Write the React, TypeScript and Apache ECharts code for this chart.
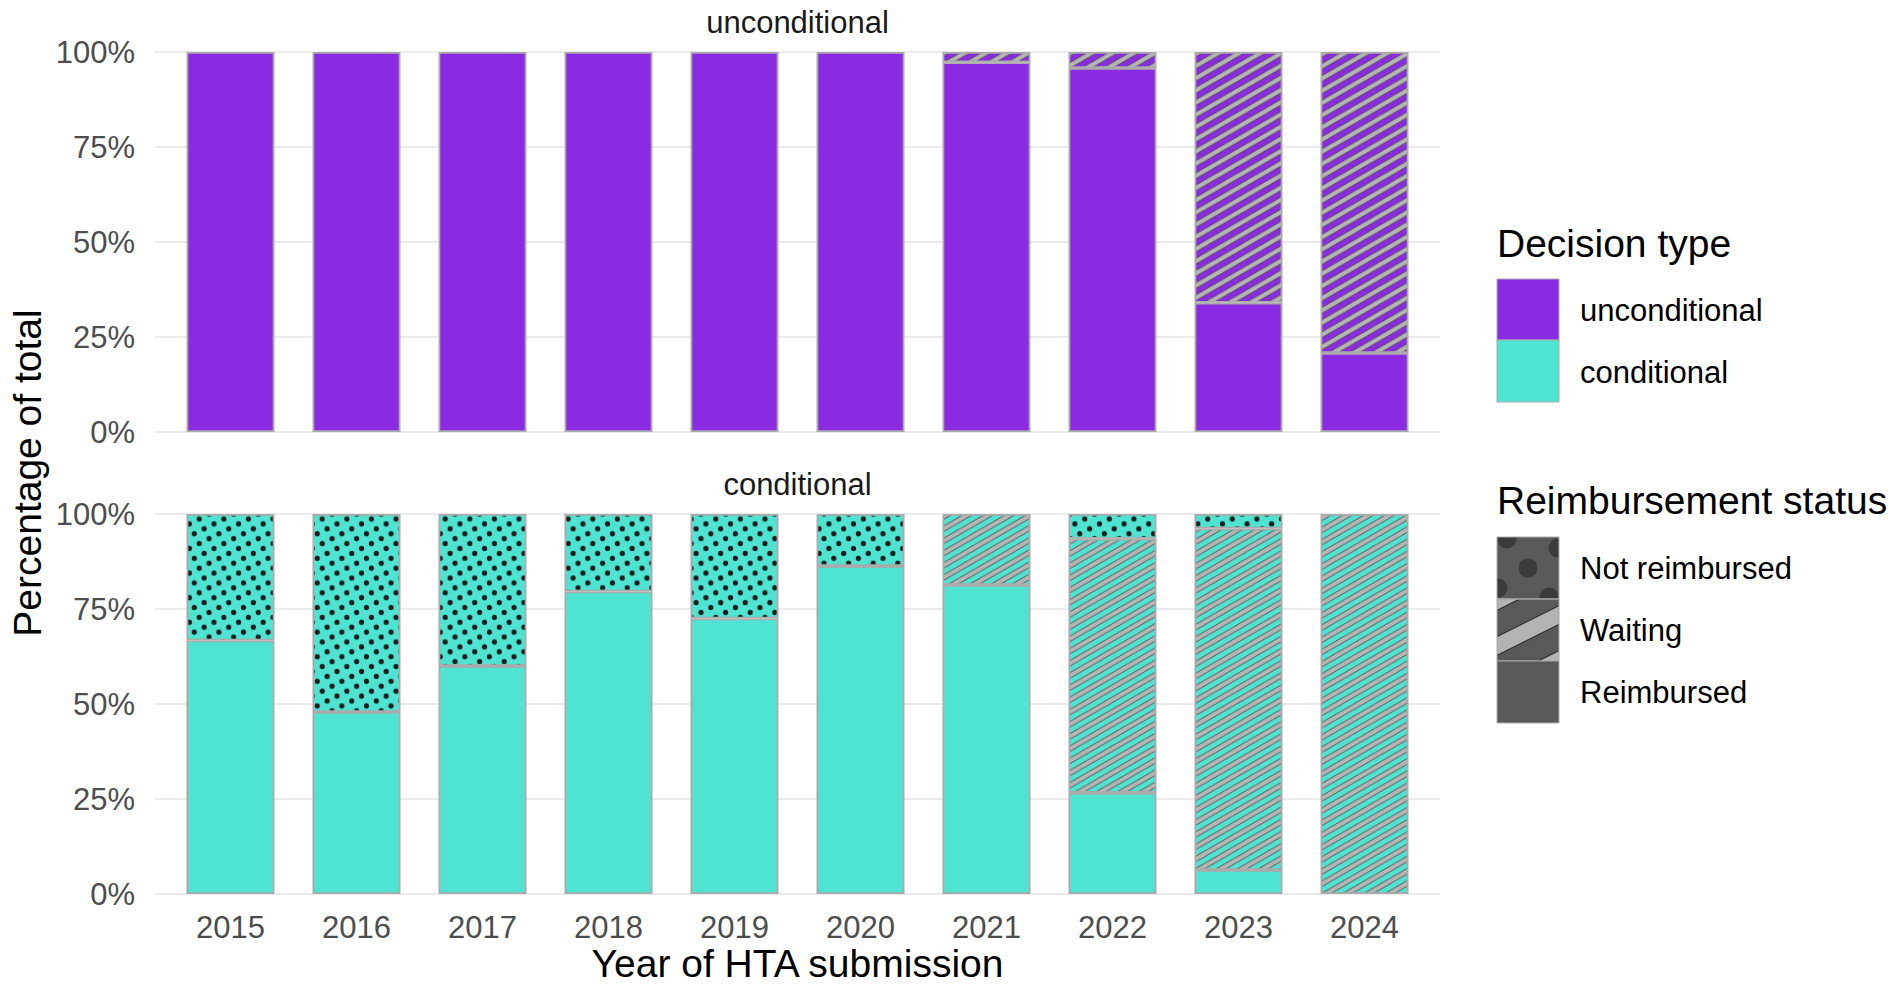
import React, { useEffect, useRef } from 'react';
import * as echarts from 'echarts';

// ---------- data ----------
const years = ['2015', '2016', '2017', '2018', '2019', '2020', '2021', '2022', '2023', '2024'];
const yTicks = [0, 25, 50, 75, 100];

// panel "unconditional" (percent of total)
const uncondReimbursed = [100, 100, 100, 100, 100, 100, 97.3, 95.8, 34.0, 20.8];
const uncondWaiting = [0, 0, 0, 0, 0, 0, 2.7, 4.2, 66.0, 79.2];
const uncondNotReimbursed = [0, 0, 0, 0, 0, 0, 0, 0, 0, 0];

// panel "conditional" (percent of total)
const condReimbursed = [66.7, 47.9, 60.0, 79.6, 72.5, 86.3, 81.3, 26.6, 6.3, 0];
const condWaiting = [0, 0, 0, 0, 0, 0, 18.7, 66.9, 89.9, 100];
const condNotReimbursed = [33.3, 52.1, 40.0, 20.4, 27.5, 13.7, 0, 6.5, 3.8, 0];

const decisionTypes = ['unconditional', 'conditional'];
const statuses = ['Not reimbursed', 'Waiting', 'Reimbursed'];

// ---------- style ----------
const FONT = '"Liberation Sans", Arial, Helvetica, sans-serif';
const PURPLE = '#8a2be2';
const CYAN = '#4fe3d2';
const BORDER = '#ababab';
const GRIDLINE = '#ebebeb';
const TICK = '#4d4d4d';

function svgUrl(svg: string) {
  return 'data:image/svg+xml;charset=utf-8,' + encodeURIComponent(svg);
}

function stripePattern(bg: string) {
  const py = 12.2;
  const px = py * Math.sqrt(3);
  let lines = '';
  for (let k = -2; k <= 2; k++) {
    const x1 = -px, y1 = py + px * (py / px) + k * py;
    const x2 = 2 * px, y2 = py - 2 * px * (py / px) + k * py;
    lines += `<line x1="${x1}" y1="${y1}" x2="${x2}" y2="${y2}" stroke="#505050" stroke-width="5.6"/>`;
    lines += `<line x1="${x1}" y1="${y1}" x2="${x2}" y2="${y2}" stroke="#b5b5b5" stroke-width="4.0"/>`;
  }
  const svg = `<svg xmlns="http://www.w3.org/2000/svg" width="${px}" height="${py}" viewBox="0 0 ${px} ${py}" preserveAspectRatio="none"><rect x="0" y="0" width="${px}" height="${py}" fill="${bg}"/>${lines}</svg>`;
  return { image: svgUrl(svg), repeat: 'repeat', imageWidth: px, imageHeight: py };
}

function dotPattern(bg: string) {
  const s = 11;
  const u = s / Math.sqrt(5);
  const T = 5 * u;
  const pts = [[0, 0], [1, 2], [2, 4], [3, 1], [4, 3]];
  let circles = '';
  for (const [i, j] of pts) {
    for (const dx of [-T, 0, T]) {
      for (const dy of [-T, 0, T]) {
        circles += `<circle cx="${i * u + u / 2 + dx}" cy="${j * u + u / 2 + dy}" r="2.6" fill="#1c1c1c"/>`;
      }
    }
  }
  const svg = `<svg xmlns="http://www.w3.org/2000/svg" width="${T}" height="${T}" viewBox="0 0 ${T} ${T}" preserveAspectRatio="none"><rect x="0" y="0" width="${T}" height="${T}" fill="${bg}"/>${circles}</svg>`;
  return { image: svgUrl(svg), repeat: 'repeat', imageWidth: T, imageHeight: T };
}

function keyNotReimbursed() {
  let c = '';
  for (let m = -3; m <= 3; m++) {
    for (let n = -3; n <= 3; n++) {
      const x = 31 + m * 30 + n * 21;
      const y = 31 - m * 20 + n * 29;
      c += `<circle cx="${x}" cy="${y}" r="9.5" fill="#3b3b3b"/>`;
    }
  }
  return svgUrl(`<svg xmlns="http://www.w3.org/2000/svg" width="62" height="62" viewBox="0 0 62 62"><rect width="62" height="62" fill="#595959"/>${c}</svg>`);
}

function keyWaiting() {
  let l = '';
  for (let k = -1; k <= 1; k++) {
    const y1 = 47 + 5 + k * 45;
    const y2 = 47 - 36 + k * 45;
    l += `<line x1="-10" y1="${y1}" x2="72" y2="${y2}" stroke="#2e2e2e" stroke-width="18"/>`;
    l += `<line x1="-10" y1="${y1}" x2="72" y2="${y2}" stroke="#b3b3b3" stroke-width="15.5"/>`;
  }
  return svgUrl(`<svg xmlns="http://www.w3.org/2000/svg" width="62" height="62" viewBox="0 0 62 62"><rect width="62" height="62" fill="#595959"/>${l}</svg>`);
}

// ---------- layout ----------
const OUTER_LEFT = 155;
const OUTER_W = 1285;
const INNER_LEFT = 167.5;
const INNER_W = 1260;
const PANEL_H = 380;
const TOP1 = 52;
const TOP2 = 514;

function buildOption() {
  const grids = [
    { left: OUTER_LEFT, top: TOP1, width: OUTER_W, height: PANEL_H },
    { left: INNER_LEFT, top: TOP1, width: INNER_W, height: PANEL_H },
    { left: OUTER_LEFT, top: TOP2, width: OUTER_W, height: PANEL_H },
    { left: INNER_LEFT, top: TOP2, width: INNER_W, height: PANEL_H },
  ];

  const outerX = (g: number) => ({ gridIndex: g, type: 'value', min: 0, max: 1, show: false });
  const innerX = (g: number, labels: boolean) => ({
    gridIndex: g,
    type: 'category',
    data: years,
    axisLine: { show: false },
    axisTick: { show: false },
    splitLine: { show: false },
    axisLabel: {
      show: labels,
      fontSize: 31,
      color: TICK,
      fontFamily: FONT,
      margin: 18,
    },
  });
  const outerY = (g: number) => ({
    gridIndex: g,
    type: 'value',
    min: yTicks[0],
    max: yTicks[yTicks.length - 1],
    interval: 25,
    axisLine: { show: false },
    axisTick: { show: false },
    axisLabel: {
      fontSize: 31,
      color: TICK,
      fontFamily: FONT,
      margin: 20,
      formatter: (v: number) => v + '%',
    },
    splitLine: { show: true, lineStyle: { color: GRIDLINE, width: 2 } },
  });
  const innerY = (g: number) => ({ gridIndex: g, type: 'value', min: 0, max: 100, show: false, splitLine: { show: false } });

  const mk = (name: string, data: number[], color: any, axis: number, stack: string) => ({
    type: 'bar',
    name,
    data: data.map((v) => (v > 0 ? v : null)),
    xAxisIndex: axis,
    yAxisIndex: axis,
    stack,
    barWidth: 88,
    silent: true,
    itemStyle: { color, borderColor: BORDER, borderWidth: 1.8 },
    emphasis: { disabled: true },
  });

  const series = [
    mk('Reimbursed', uncondReimbursed, PURPLE, 1, 'u'),
    mk('Waiting', uncondWaiting, stripePattern(PURPLE), 1, 'u'),
    mk('Not reimbursed', uncondNotReimbursed, dotPattern(PURPLE), 1, 'u'),
    mk('Reimbursed', condReimbursed, CYAN, 3, 'c'),
    mk('Waiting', condWaiting, stripePattern(CYAN), 3, 'c'),
    mk('Not reimbursed', condNotReimbursed, dotPattern(CYAN), 3, 'c'),
  ];

  const cx = OUTER_LEFT + OUTER_W / 2;
  const txt = (text: string, x: number, y: number, size: number, fill: string, align = 'center', extra: any = {}) => ({
    type: 'text',
    x,
    y,
    silent: true,
    ...extra,
    style: { text, fontSize: size, lineHeight: size, fill, fontFamily: FONT, align, verticalAlign: 'middle' },
  });

  const KX = 1497;
  const KW = 62;
  const LX = 1580;
  const graphic: any[] = [
    txt(decisionTypes[0], cx, 22, 31, '#1a1a1a'),
    txt(decisionTypes[1], cx, 484, 31, '#1a1a1a'),
    txt('Percentage of total', 27, 473, 39, '#000', 'center', { rotation: Math.PI / 2 }),
    txt('Year of HTA submission', cx, 963, 39, '#000'),
    // legend: Decision type
    txt('Decision type', KX, 243, 39, '#000', 'left'),
    { type: 'rect', shape: { x: KX, y: 279, width: KW, height: 61 }, style: { fill: PURPLE, stroke: '#aaaaaa', lineWidth: 1 } },
    { type: 'rect', shape: { x: KX, y: 340, width: KW, height: 62 }, style: { fill: CYAN, stroke: '#aaaaaa', lineWidth: 1 } },
    txt(decisionTypes[0], LX, 310, 31, '#000', 'left'),
    txt(decisionTypes[1], LX, 372, 31, '#000', 'left'),
    // legend: Reimbursement status
    txt('Reimbursement status', KX, 500, 39, '#000', 'left'),
    { type: 'image', style: { image: keyNotReimbursed(), x: KX, y: 537, width: KW, height: 62 } },
    { type: 'image', style: { image: keyWaiting(), x: KX, y: 599, width: KW, height: 62 } },
    { type: 'rect', shape: { x: KX, y: 537, width: KW, height: 62 }, style: { fill: 'none', stroke: '#aaaaaa', lineWidth: 1 } },
    { type: 'rect', shape: { x: KX, y: 599, width: KW, height: 62 }, style: { fill: 'none', stroke: '#aaaaaa', lineWidth: 1 } },
    { type: 'rect', shape: { x: KX, y: 661, width: KW, height: 62 }, style: { fill: '#595959', stroke: '#aaaaaa', lineWidth: 1 } },
    txt(statuses[0], LX, 568, 31, '#000', 'left'),
    txt(statuses[1], LX, 630, 31, '#000', 'left'),
    txt(statuses[2], LX, 692, 31, '#000', 'left'),
  ];

  return {
    animation: false,
    backgroundColor: '#ffffff',
    grid: grids,
    xAxis: [outerX(0), innerX(1, false), outerX(2), innerX(3, true)],
    yAxis: [outerY(0), innerY(1), outerY(2), innerY(3)],
    series,
    graphic,
  };
}

export default function App() {
  const ref = useRef<HTMLDivElement>(null);
  useEffect(() => {
    if (!ref.current) return;
    const chart = echarts.init(ref.current, null, { renderer: 'svg' });
    chart.setOption(buildOption() as any);
    return () => chart.dispose();
  }, []);
  return (
    <div
      ref={ref}
      style={{ position: 'fixed', left: 0, top: 0, width: 1902, height: 985, background: '#fff' }}
    />
  );
}
